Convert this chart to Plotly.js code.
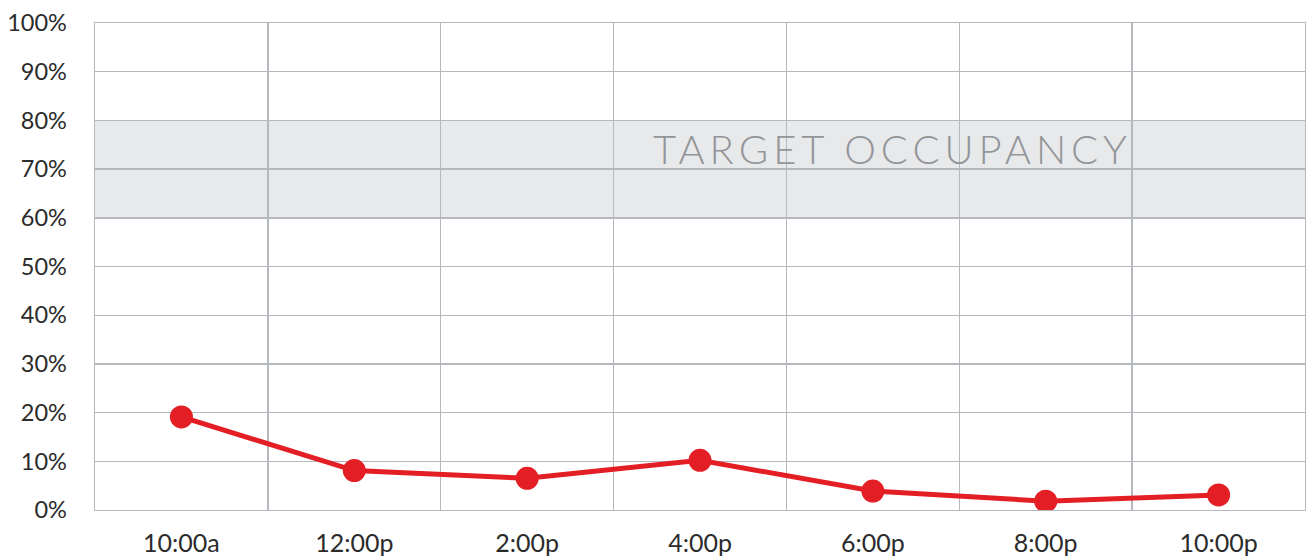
<!DOCTYPE html>
<html>
<head>
<meta charset="utf-8">
<script src="https://cdn.plot.ly/plotly-3.0.1.min.js"></script>
<style>html,body{margin:0;padding:0;background:#fff;}#chart{width:1307px;height:558px;}</style>
</head>
<body>
<div id="chart"></div>
<script>
const times = ["10:00a", "12:00p", "2:00p", "4:00p", "6:00p", "8:00p", "10:00p"];
const occupancy = [19.1, 8.1, 6.5, 10.2, 3.9, 1.8, 3.1];
const targetLow = 60;
const targetHigh = 80;
const targetLabel = "TARGET OCCUPANCY";
const yTicks = [0, 10, 20, 30, 40, 50, 60, 70, 80, 90, 100];
const yTickLabels = yTicks.map(v => v + "%");

const gridColor = "#b5b9be";
const fontFamily = "Lato, 'Open Sans', sans-serif";

const trace = {
  type: "scatter",
  mode: "lines+markers",
  x: times,
  y: occupancy,
  line: {color: "#e31e24", width: 5},
  marker: {color: "#e31e24", size: 23},
  hoverinfo: "x+y"
};

const layout = {
  width: 1307,
  height: 558,
  margin: {l: 95, r: 2, t: 23, b: 48},
  paper_bgcolor: "#ffffff",
  plot_bgcolor: "#ffffff",
  showlegend: false,
  font: {family: fontFamily, color: "#2b2b2b", size: 24},
  xaxis: {
    type: "category",
    range: [-0.5, times.length - 0.5],
    tickson: "boundaries",
    showgrid: true,
    gridcolor: gridColor,
    gridwidth: 1.4,
    ticks: "",
    showline: true,
    linecolor: gridColor,
    linewidth: 1.4,
    mirror: true,
    zeroline: false,
    ticklabelstandoff: 11,
    tickfont: {family: fontFamily, size: 25, color: "#2b2b2b"},
    fixedrange: true
  },
  yaxis: {
    range: [0, 100],
    tickvals: yTicks,
    ticktext: yTickLabels,
    showgrid: true,
    gridcolor: gridColor,
    gridwidth: 1.4,
    ticks: "",
    showline: true,
    linecolor: gridColor,
    linewidth: 1.4,
    mirror: true,
    zeroline: false,
    ticklabelstandoff: 22,
    tickfont: {family: fontFamily, size: 23.5, color: "#2b2b2b"},
    fixedrange: true
  },
  shapes: [{
    type: "rect",
    xref: "paper", yref: "y",
    x0: 0, x1: 1, y0: targetLow, y1: targetHigh,
    fillcolor: "#e8e9eb",
    line: {width: 0},
    layer: "below"
  }],
  annotations: [{
    text: targetLabel,
    xref: "paper", yref: "y",
    x: 0.826, y: 74.2,
    xanchor: "right", yanchor: "middle",
    showarrow: false,
    font: {family: fontFamily, size: 40, color: "#939598", weight: 300}
  }]
};

Plotly.newPlot("chart", [trace], layout, {displayModeBar: false, staticPlot: true}).then(() => {
  document.querySelectorAll(".annotation-text").forEach(el => {
    el.style.letterSpacing = "5px";
  });
});
</script>
</body>
</html>
